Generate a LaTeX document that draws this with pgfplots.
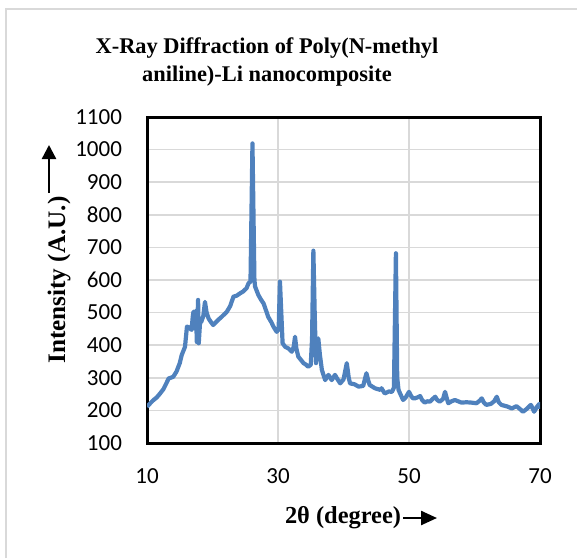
\documentclass[border=0pt]{standalone}
\usepackage{fontspec}
\setmainfont{Liberation Serif}
\newfontfamily\carlito{Carlito}
\usepackage{pgfplots}
\pgfplotsset{compat=1.18}
\usetikzlibrary{arrows.meta}
\definecolor{xrd}{HTML}{4F81BD}
\definecolor{gridc}{HTML}{D9D9D9}
\begin{document}
\begin{tikzpicture}
\begin{scope}[x=0.5pt,y=-0.5pt]
\useasboundingbox (0,0) rectangle (577,558);
\draw[gridc, line width=0.75pt] (6,558) -- (6,9) -- (577,9);
\node[align=center, font=\bfseries\fontsize{11.2}{14}\selectfont] at (267,62) {X-Ray Diffraction of Poly(N-methyl\\aniline)-Li nanocomposite};
\node[rotate=90, anchor=base, font=\bfseries\fontsize{12.6}{14}\selectfont] at (65,280) {Intensity (A.U.)};
\draw[line width=1.2pt, -{Triangle[width=7pt,length=7pt]}] (49,193) -- (49,145);
\node[anchor=base, font=\bfseries\fontsize{12.2}{14}\selectfont] at (343,523) {2θ (degree)};
\draw[line width=1.2pt, -{Triangle[width=7pt,length=8pt]}] (403,518) -- (437,518);
\end{scope}
\begin{axis}[
  at={(73.5pt,-221.5pt)}, anchor=south west,
  scale only axis, width=196.5pt, height=163pt,
  xmin=10, xmax=70, ymin=100, ymax=1100,
  xtick={10,30,50,70}, ytick={100,200,...,1100},
  grid=major, major grid style={gridc, line width=0.75pt},
  major tick length=0pt,
  axis line style={black, line width=1.5pt},
  tick label style={font=\carlito\fontsize{11.5}{13}\selectfont},
  /pgf/number format/assume math mode=true,
  /pgf/number format/1000 sep={},
  yticklabel style={xshift=-9pt},
  xticklabel style={yshift=-9pt},
]
\addplot[xrd, line width=2.1pt, line join=round, mark=none] coordinates {
(10,211)(10.5,222)(11,232)(11.5,240)(12,252)(12.5,265)(13,285)(13.3,298)(13.6,300)(14,303)(14.5,319)(15,345)(15.3,370)(15.8,395)(16.1,457)(16.4,455)(16.8,447)(17.0,490)(17.1,503)(17.3,450)(17.5,505)(17.6,410)(17.8,539)(17.9,406)(18.1,470)(18.3,472)(18.6,490)(18.85,533)(19.1,500)(19.4,482)(19.8,470)(20.1,462)(20.5,470)(21,480)(21.4,487)(21.8,495)(22.2,503)(22.7,520)(23.2,549)(23.7,552)(24.2,559)(24.7,565)(25.2,575)(25.5,590)(25.8,595)(26.1,1019)(26.4,600)(26.5,580)(27,554)(27.4,540)(27.8,528)(28.2,505)(28.5,487)(29,470)(29.3,457)(29.8,441)(30.1,450)(30.3,595)(30.5,500)(30.7,406)(31.1,395)(31.6,390)(32.1,380)(32.4,395)(32.6,426)(32.8,390)(33.1,365)(33.5,355)(33.9,345)(34.3,340)(34.6,334)(35.0,340)(35.2,420)(35.4,690)(35.6,500)(35.8,345)(36.0,400)(36.15,421)(36.4,370)(36.7,324)(37.2,293)(37.7,309)(38.2,293)(38.7,309)(39.1,295)(39.5,283)(40.0,295)(40.5,345)(40.8,300)(41.0,283)(41.7,280)(42.3,273)(43.0,275)(43.5,314)(43.8,290)(44.0,278)(44.8,268)(45.6,263)(45.8,268)(46.3,252)(46.9,258)(47.4,257)(47.7,270)(48.0,682)(48.2,300)(48.4,263)(48.8,245)(49.1,232)(49.5,240)(50.0,257)(50.3,245)(50.6,237)(50.9,237)(51.3,240)(51.7,244)(52.0,232)(52.4,224)(52.8,228)(53.2,227)(53.6,235)(54.0,242)(54.3,232)(54.7,227)(55.2,235)(55.5,257)(55.8,235)(56.0,222)(56.5,228)(57.0,232)(57.5,228)(58.0,224)(58.8,225)(59.5,224)(60.3,222)(60.8,230)(61.1,237)(61.4,225)(61.8,217)(62.5,220)(63.0,228)(63.4,242)(63.7,225)(64.1,217)(65.0,212)(65.7,206)(66.4,213)(66.9,205)(67.4,196)(68.0,205)(68.6,217)(68.9,205)(69.1,196)(69.5,210)(69.9,220)(70.0,205)
};
\end{axis}
\end{tikzpicture}
\end{document}
